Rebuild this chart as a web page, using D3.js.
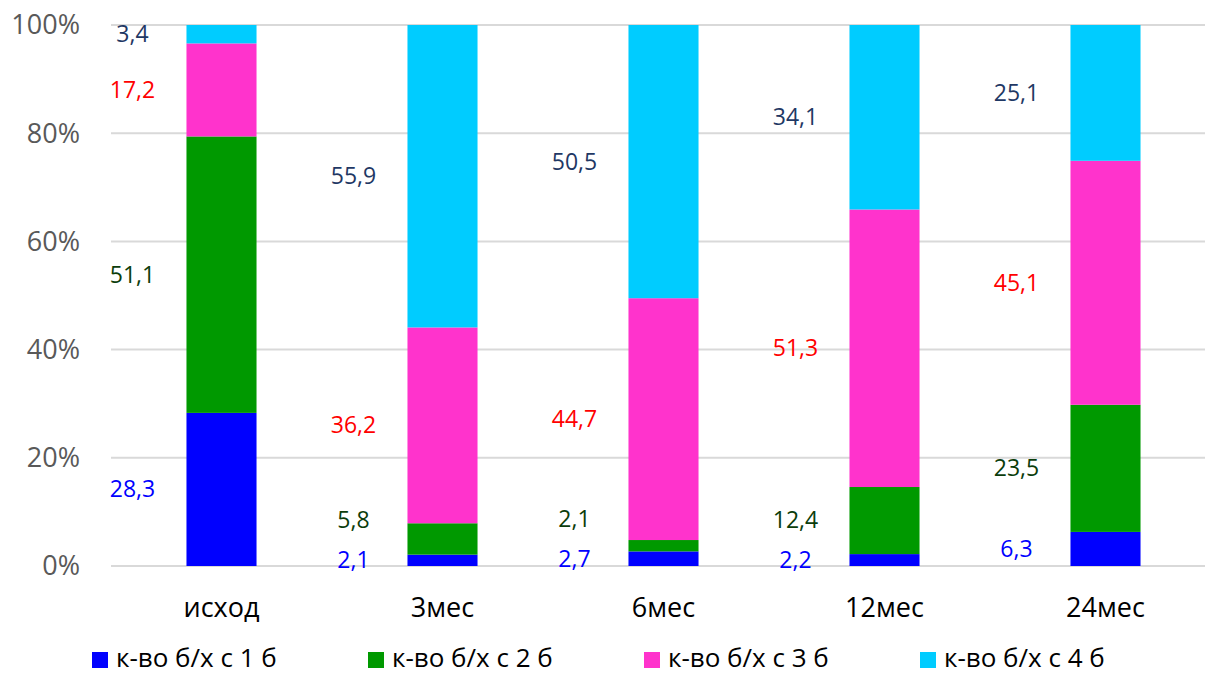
<!DOCTYPE html>
<html>
<head>
<meta charset="utf-8">
<script src="https://cdn.jsdelivr.net/npm/d3@7/dist/d3.min.js"></script>
<style>
  html, body { margin: 0; padding: 0; background: #fff; }
  svg { display: block; font-family: "Open Sans", "Noto Sans", sans-serif; }
</style>
</head>
<body>
<svg id="chart" width="1205" height="677"></svg>
<script>
// Periods and share of each score group (%)
const categories = ["исход", "3мес", "6мес", "12мес", "24мес"];
const seriesNames = ["к-во б/х с 1 б", "к-во б/х с 2 б", "к-во б/х с 3 б", "к-во б/х с 4 б"];
const score1 = [28.3, 2.1, 2.7, 2.2, 6.3];
const score2 = [51.1, 5.8, 2.1, 12.4, 23.5];
const score3 = [17.2, 36.2, 44.7, 51.3, 45.1];
const score4 = [3.4, 55.9, 50.5, 34.1, 25.1];
const yTicks = [0, 20, 40, 60, 80, 100];

const seriesValues = [score1, score2, score3, score4];
const fillColors = ["#0000FF", "#009900", "#FF33CC", "#00CCFF"];
const labelColors = ["#0000FF", "#0B3D0B", "#FF0000", "#1F3864"];

const svg = d3.select("#chart");
const margin = { left: 111, right: 1216, top: 25, bottom: 566 };

const x = d3.scaleBand()
  .domain(categories)
  .range([margin.left, margin.right])
  .paddingInner(0.683)
  .paddingOuter(0.683 / 2);

const y = d3.scaleLinear().domain([0, 100]).range([margin.bottom, margin.top]);

// Horizontal gridlines
svg.append("g")
  .selectAll("line")
  .data(yTicks)
  .join("line")
  .attr("x1", margin.left)
  .attr("x2", 1205)
  .attr("y1", d => y(d))
  .attr("y2", d => y(d))
  .attr("stroke", "#D9D9D9")
  .attr("stroke-width", 2);

// Y axis tick labels
svg.append("g")
  .selectAll("text")
  .data(yTicks)
  .join("text")
  .attr("x", 80)
  .attr("y", d => y(d))
  .attr("dy", "0.35em")
  .attr("text-anchor", "end")
  .attr("fill", "#595959")
  .attr("font-size", 27)
  .text(d => d + "%");

// Stack the series per category
const rows = categories.map((c, i) => {
  const r = { cat: c };
  seriesNames.forEach((s, j) => { r[s] = seriesValues[j][i]; });
  return r;
});
const stacked = d3.stack().keys(seriesNames)(rows);

svg.append("g")
  .selectAll("g")
  .data(stacked)
  .join("g")
  .attr("fill", (d, i) => fillColors[i])
  .selectAll("rect")
  .data(d => d)
  .join("rect")
  .attr("x", d => x(d.data.cat))
  .attr("width", x.bandwidth())
  .attr("y", d => y(d[1]))
  .attr("height", d => y(d[0]) - y(d[1]));

// Value labels to the left of each bar, spread apart where segments are thin
const minGap = 40;
const labelGroup = svg.append("g").attr("font-size", 23);
categories.forEach((c, i) => {
  let prevY = Infinity;
  stacked.forEach((layer, j) => {
    const seg = layer[i];
    let ly = y((seg[0] + seg[1]) / 2);
    if (prevY - ly < minGap) ly = prevY - minGap;
    prevY = ly;
    labelGroup.append("text")
      .attr("x", x(c) + x.bandwidth() / 2 - 89)
      .attr("y", ly)
      .attr("dy", "0.35em")
      .attr("text-anchor", "middle")
      .attr("fill", labelColors[j])
      .text(d3.format(".1f")(seriesValues[j][i]).replace(".", ","));
  });
});

// Category labels
svg.append("g")
  .selectAll("text")
  .data(categories)
  .join("text")
  .attr("x", d => x(d) + x.bandwidth() / 2)
  .attr("y", 608)
  .attr("dy", "0.35em")
  .attr("text-anchor", "middle")
  .attr("fill", "#000")
  .attr("font-size", 27)
  .text(d => d);

// Legend
const legend = svg.append("g").attr("transform", "translate(92,658)");
const legendStep = 276;
seriesNames.forEach((s, i) => {
  const g = legend.append("g").attr("transform", `translate(${i * legendStep},0)`);
  g.append("rect").attr("x", 0).attr("y", -6).attr("width", 16).attr("height", 16).attr("fill", fillColors[i]);
  g.append("text").attr("x", 24).attr("y", 0).attr("dy", "0.35em")
    .attr("font-size", 26).attr("fill", "#000").text(s);
});
</script>
</body>
</html>
